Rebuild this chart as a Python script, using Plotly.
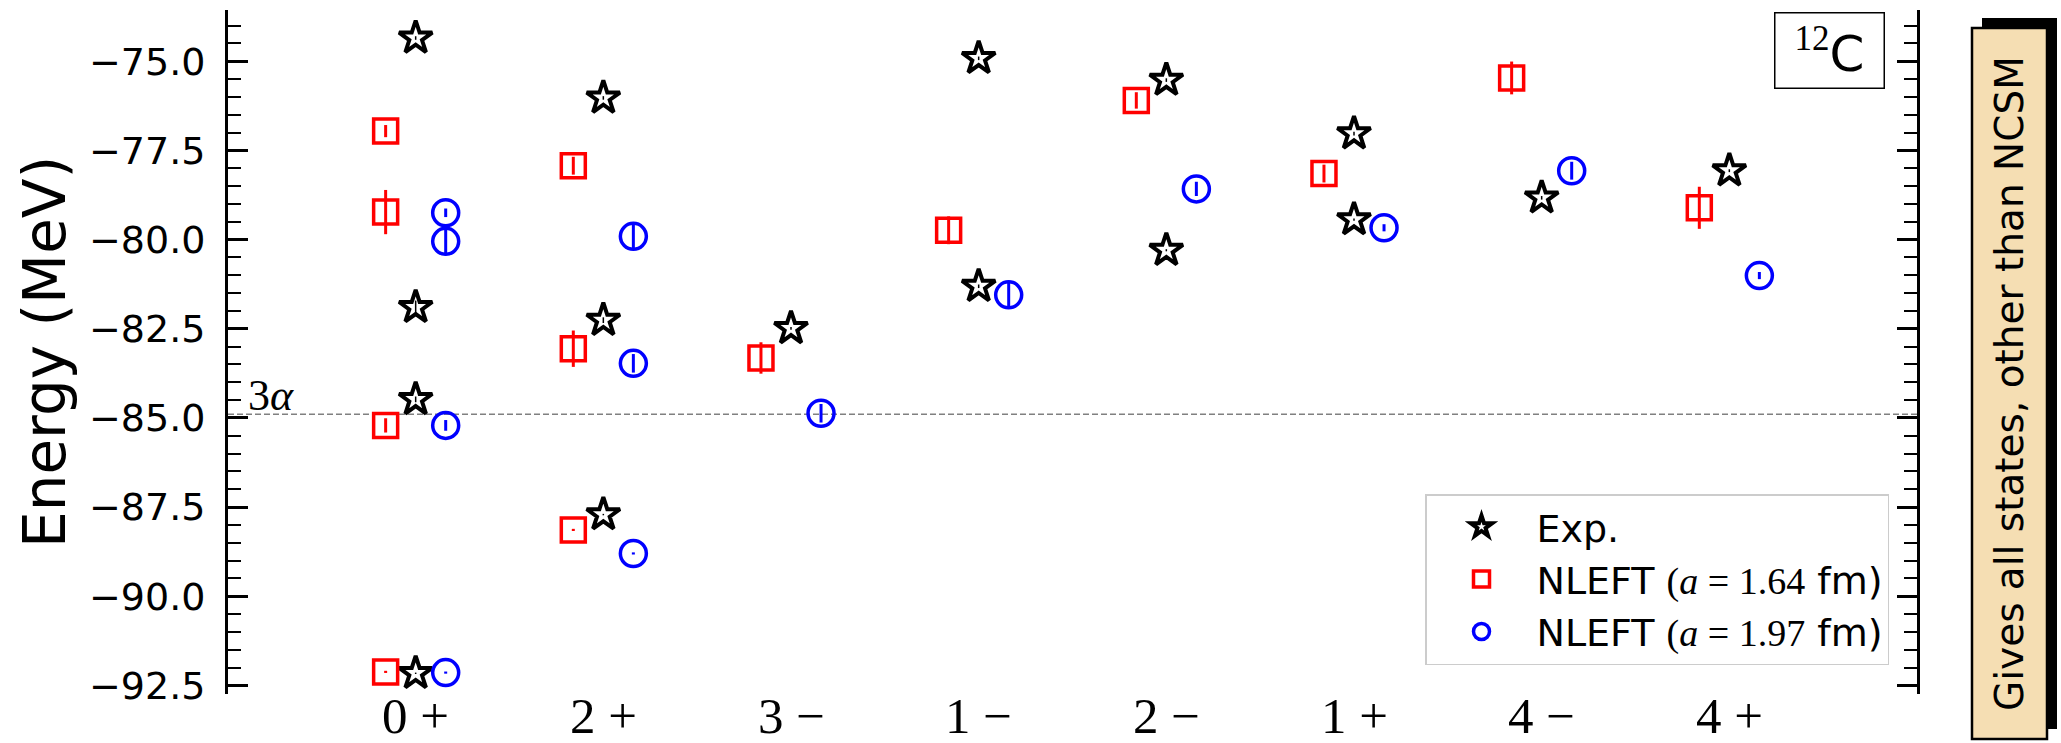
import plotly.graph_objects as go

# Spin-parity channels along the x axis
states = ["0 +", "2 +", "3 −", "1 −", "2 −", "1 +", "4 −", "4 +"]

# Experimental levels (MeV)
exp_state = [0, 0, 0, 0, 1, 1, 1, 2, 3, 3, 4, 4, 5, 5, 6, 7]
exp_energy = [-92.16, -84.48, -81.90, -74.35, -87.71, -82.26, -76.03, -82.49,
              -81.31, -74.92, -80.30, -75.53, -79.44, -77.03, -78.83, -78.07]
exp_err = [0.02, 0.08, 0.19, 0.05, 0.02, 0.08, 0.05, 0.04,
           0.05, 0.05, 0.03, 0.05, 0.03, 0.05, 0.05, 0.04]

# NLEFT, lattice spacing a = 1.64 fm
n164_state = [0, 0, 0, 0, 1, 1, 1, 2, 3, 4, 5, 6, 7]
n164_energy = [-92.12, -85.21, -79.23, -76.96, -88.14, -83.06, -77.93,
               -83.32, -79.74, -76.10, -78.15, -75.47, -79.11]
n164_err = [0.03, 0.20, 0.62, 0.17, 0.03, 0.51, 0.25,
            0.44, 0.39, 0.23, 0.25, 0.46, 0.59]

# NLEFT, lattice spacing a = 1.97 fm
n197_state = [0, 0, 0, 0, 1, 1, 1, 2, 3, 4, 5, 6, 7]
n197_energy = [-92.14, -85.21, -80.05, -79.25, -88.80, -83.47, -79.91,
               -84.87, -81.55, -78.58, -79.67, -78.07, -81.01]
n197_err = [0.03, 0.15, 0.39, 0.12, 0.03, 0.26, 0.38,
            0.26, 0.39, 0.20, 0.10, 0.25, 0.10]

# Three-alpha breakup threshold
three_alpha = -84.9

y_ticks = [-92.5, -90.0, -87.5, -85.0, -82.5, -80.0, -77.5, -75.0]
y_ticktext = [f"{v:.1f}".replace("-", "\u2212") for v in y_ticks]

W, H = 2061, 743
PX_L, PX_R, PX_T, PX_B = 228, 1917, 10, 694


def px_x(px):
    return (px - PX_L) / (PX_R - PX_L)


def px_y(py):
    return (PX_B - py) / (PX_B - PX_T)


SANS = "DejaVu Sans"
SERIF = "Liberation Serif"
OFF = 0.16


def nleft_label(a):
    return (f"NLEFT <span style='font-family:{SERIF}'>"
            f"(<i>a</i> = {a}</span> fm)")


fig = go.Figure()

fig.add_trace(go.Scatter(
    x=exp_state, y=exp_energy, mode="markers", name="Exp.",
    marker=dict(symbol="star-open", size=25, color="black",
                line=dict(width=4, color="black")),
    error_y=dict(type="data", array=exp_err, visible=True,
                 thickness=1.5, width=0, color="black"),
))
fig.add_trace(go.Scatter(
    x=[s - OFF for s in n164_state], y=n164_energy, mode="markers",
    name=nleft_label("1.64"),
    marker=dict(symbol="square-open", size=24, color="red",
                line=dict(width=3.5, color="red")),
    error_y=dict(type="data", array=n164_err, visible=True,
                 thickness=3, width=0, color="red"),
))
fig.add_trace(go.Scatter(
    x=[s + OFF for s in n197_state], y=n197_energy, mode="markers",
    name=nleft_label("1.97"),
    marker=dict(symbol="circle-open", size=26, color="blue",
                line=dict(width=3.5, color="blue")),
    error_y=dict(type="data", array=n197_err, visible=True,
                 thickness=3, width=0, color="blue"),
))

shapes = [
    dict(type="line", xref="x", yref="y", x0=-1, x1=8,
         y0=three_alpha, y1=three_alpha,
         line=dict(color="gray", width=1.5, dash="6px,3px"), layer="below"),
    # side note box with drop shadow
    dict(type="rect", xref="paper", yref="paper",
         x0=px_x(1982), x1=px_x(2057), y0=px_y(729), y1=px_y(18),
         fillcolor="black", line=dict(width=0)),
    dict(type="rect", xref="paper", yref="paper",
         x0=px_x(1972), x1=px_x(2047), y0=px_y(739), y1=px_y(28),
         fillcolor="#f5deb3", line=dict(color="black", width=2.5)),
]

annotations = [
    dict(text="Energy (MeV)", xref="paper", yref="paper",
         x=px_x(45), y=px_y(352), textangle=-90, showarrow=False,
         xanchor="center", yanchor="middle",
         font=dict(family=SANS, size=58, color="black")),
    dict(text="3<i>α</i>", xref="paper", yref="paper",
         x=px_x(246), y=px_y(395), showarrow=False,
         xanchor="left", yanchor="middle",
         font=dict(family=SERIF, size=44, color="black")),
    dict(text=f"<sup><span style='font-family:{SERIF}'>12</span></sup>C",
         xref="paper", yref="paper", x=px_x(1829), y=px_y(50),
         showarrow=False, xanchor="center", yanchor="middle",
         width=104, height=70, borderpad=2,
         bordercolor="black", borderwidth=1.5, bgcolor="white",
         font=dict(family=SANS, size=50, color="black")),
    dict(text="Gives all states, other than NCSM", xref="paper", yref="paper",
         x=px_x(2009), y=px_y(384), textangle=-90, showarrow=False,
         xanchor="center", yanchor="middle",
         font=dict(family=SANS, size=39, color="black")),
]

# category labels under the axis, placed on the x scale
for i, lab in enumerate(states):
    annotations.append(dict(
        text=lab, xref="x", yref="paper", x=i, y=px_y(716),
        showarrow=False, xanchor="center", yanchor="middle",
        height=40, valign="middle",
        font=dict(family=SERIF, size=51, color="black")))

fig.update_layout(
    width=W, height=H,
    margin=dict(l=PX_L, r=W - PX_R, t=PX_T, b=H - PX_B),
    paper_bgcolor="white", plot_bgcolor="white",
    showlegend=True,
    legend=dict(x=px_x(1889), y=px_y(665), xanchor="right", yanchor="bottom",
                bgcolor="white", bordercolor="#cccccc", borderwidth=1.5,
                font=dict(family=SANS, size=38, color="black"),
                itemwidth=100, tracegroupgap=0),
    xaxis=dict(range=[-1, 8], showticklabels=False, showline=False,
               showgrid=False, zeroline=False, ticks="", automargin=False),
    yaxis=dict(range=[-92.74, -73.565], tickmode="array", tickvals=y_ticks,
               ticktext=y_ticktext, showline=True, linewidth=3, linecolor="black",
               mirror="allticks", ticks="inside", ticklen=20, tickwidth=2.5,
               tickcolor="black", showgrid=False, zeroline=False,
               ticklabelstandoff=12, automargin=False,
               minor=dict(ticks="inside", ticklen=13, tickwidth=2,
                          dtick=0.5, tick0=-75, tickcolor="black", showgrid=False),
               tickfont=dict(family=SANS, size=38, color="black")),
    shapes=shapes,
    annotations=annotations,
)

fig.write_html("out.html")
